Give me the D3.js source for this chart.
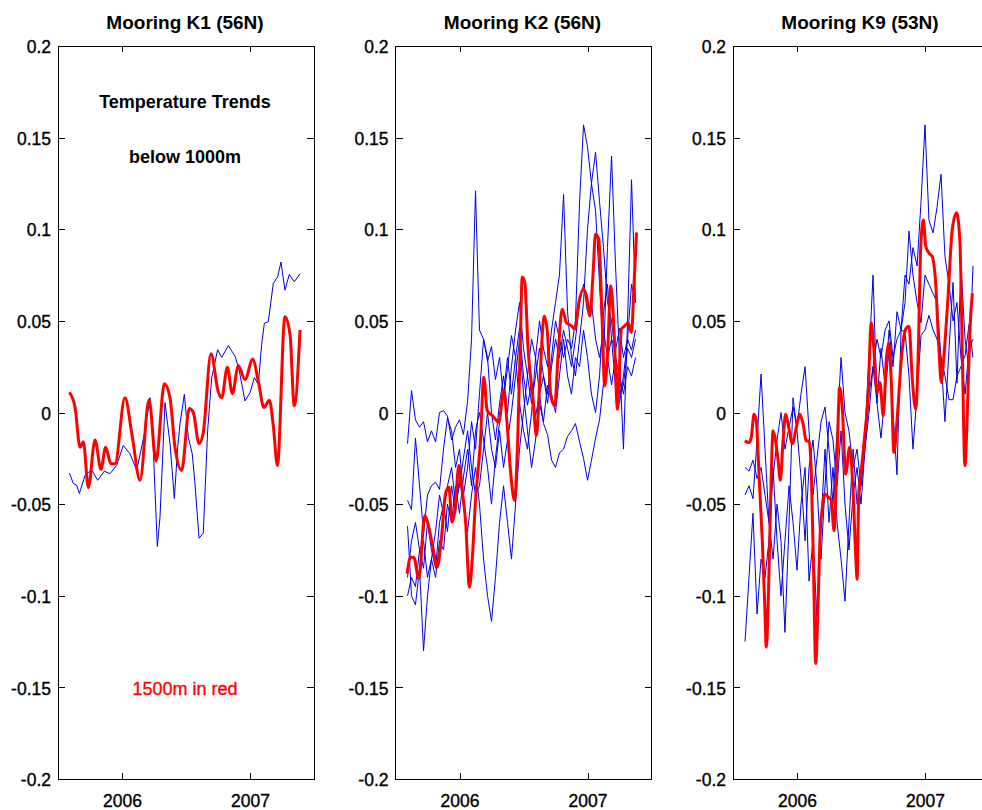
<!DOCTYPE html>
<html><head><meta charset="utf-8">
<script src="https://cdn.jsdelivr.net/npm/d3@7"></script>
<style>
body{margin:0;background:#fff}
svg{display:block}
text{font-family:"Liberation Sans",Arial,Helvetica,sans-serif}
</style>
</head><body>
<svg id="c" width="982" height="810"></svg>
<script>
// ---------------- data ----------------
const panelTitles = ["Mooring K1 (56N)", "Mooring K2 (56N)", "Mooring K9 (53N)"];
const xTickValues = [2006, 2007];
const xTickLabels = ["2006", "2007"];
const yTickValues = [0.2, 0.15, 0.1, 0.05, 0, -0.05, -0.1, -0.15, -0.2];
const yTickLabels = ["0.2", "0.15", "0.1", "0.05", "0", "-0.05", "-0.1", "-0.15", "-0.2"];
const notes = ["Temperature Trends", "below 1000m", "1500m in red"];

// sample times (decimal year) for the K2 and K9 blue records
const gridTimes = [2005.594,2005.625,2005.656,2005.688,2005.719,2005.75,2005.781,2005.813,2005.844,2005.875,
2005.906,2005.938,2005.969,2006.0,2006.031,2006.063,2006.094,2006.125,2006.156,2006.188,
2006.219,2006.25,2006.281,2006.313,2006.344,2006.375,2006.406,2006.438,2006.469,2006.5,
2006.531,2006.563,2006.594,2006.625,2006.656,2006.688,2006.719,2006.75,2006.781,2006.813,
2006.844,2006.875,2006.906,2006.938,2006.969,2007.0,2007.031,2007.063,2007.094,2007.125,
2007.156,2007.188,2007.219,2007.25,2007.281,2007.313,2007.344,2007.375];

// K1
const k1Red = [[2005.589,0.011],[2005.633,0.003],[2005.672,-0.019],[2005.698,-0.016],[2005.737,-0.041],[2005.789,-0.015],[2005.836,-0.031],[2005.872,-0.019],[2005.914,-0.028],[2005.945,-0.028],[2006.023,0.008],[2006.081,-0.0135],[2006.141,-0.037],[2006.211,0.007],[2006.266,-0.0265],[2006.331,0.0157],[2006.375,0.008],[2006.414,-0.019],[2006.466,-0.0316],[2006.526,0.0022],[2006.557,0.000],[2006.602,-0.017],[2006.635,-0.011],[2006.695,0.032],[2006.753,0.011],[2006.779,0.008],[2006.823,0.0247],[2006.862,0.0103],[2006.909,0.0255],[2006.961,0.018],[2007.021,0.029],[2007.065,0.017],[2007.109,0.0027],[2007.151,0.0067],[2007.182,-0.0072],[2007.214,-0.0289],[2007.273,0.0523],[2007.313,0.0424],[2007.346,0.0036],[2007.391,0.0451]];
const k1Blue = [[2005.589,-0.033],[2005.620,-0.0388],[2005.646,-0.0397],[2005.667,-0.0442],[2005.711,-0.0343],[2005.763,-0.0312],[2005.810,-0.037],[2005.862,-0.032],[2005.906,-0.0334],[2005.958,-0.0289],[2006.010,-0.018],[2006.063,-0.0226],[2006.115,-0.0316],[2006.180,-0.0099],[2006.219,0.0081],[2006.245,-0.0208],[2006.276,-0.0731],[2006.297,-0.0569],[2006.336,0.0054],[2006.375,-0.0171],[2006.409,-0.0469],[2006.435,-0.019],[2006.453,-0.0063],[2006.487,0.0099],[2006.518,-0.0135],[2006.549,-0.0226],[2006.570,-0.0388],[2006.602,-0.0686],[2006.635,-0.0659],[2006.669,-0.0099],[2006.701,0.019],[2006.747,0.0343],[2006.779,0.0301],[2006.831,0.0365],[2006.883,0.0307],[2006.914,0.0235],[2006.961,0.0063],[2007.000,0.0108],[2007.034,0.019],[2007.065,0.0153],[2007.091,0.037],[2007.112,0.0487],[2007.143,0.0496],[2007.182,0.0704],[2007.216,0.074],[2007.242,0.0821],[2007.273,0.0668],[2007.307,0.0753],[2007.346,0.0713],[2007.391,0.0758]];

// K2
const k2Red = [[2005.591,-0.088],[2005.617,-0.079],[2005.643,-0.079],[2005.682,-0.0907],[2005.729,-0.0562],[2005.760,-0.0625],[2005.792,-0.0735],[2005.826,-0.0844],[2005.857,-0.0698],[2005.891,-0.0444],[2005.917,-0.0407],[2005.943,-0.0598],[2005.964,-0.0535],[2005.995,-0.0289],[2006.021,-0.0425],[2006.047,-0.0589],[2006.078,-0.0953],[2006.099,-0.0807],[2006.125,-0.048],[2006.164,-0.0153],[2006.190,0.0193],[2006.216,0.0011],[2006.255,-0.0016],[2006.307,-0.0053],[2006.346,0.012],[2006.372,-0.0062],[2006.398,-0.0316],[2006.430,-0.048],[2006.456,-0.0116],[2006.474,0.035],[2006.490,0.074],[2006.510,0.071],[2006.536,0.0345],[2006.575,0.0073],[2006.601,-0.0127],[2006.627,0.0164],[2006.661,0.0527],[2006.687,0.0436],[2006.713,0.0091],[2006.744,0.0036],[2006.770,0.031],[2006.802,0.0564],[2006.836,0.049],[2006.875,0.0473],[2006.901,0.0455],[2006.932,0.06],[2006.966,0.0673],[2006.992,0.0636],[2007.018,0.0527],[2007.044,0.0764],[2007.062,0.0973],[2007.088,0.0945],[2007.109,0.0618],[2007.135,0.0145],[2007.156,0.031],[2007.182,0.0691],[2007.208,0.0436],[2007.234,0.0018],[2007.265,0.0455],[2007.291,0.0473],[2007.317,0.049],[2007.344,0.0436],[2007.364,0.0709],[2007.383,0.0982]];
const k2Blue1 = [-0.017,0.012,-0.004,-0.008,-0.005,-0.016,-0.010,-0.016,0.000,0.001,-0.002,-0.015,-0.008,-0.004,-0.012,0.006,0.040,0.121,0.045,0.040,0.028,0.036,0.018,0.030,0.008,0.024,0.042,0.030,0.046,0.020,0.004,0.016,-0.002,0.010,-0.006,-0.012,-0.026,-0.030,-0.022,-0.020,-0.013,-0.010,-0.006,-0.016,-0.025,-0.037,-0.026,-0.014,-0.004,0.016,0.030,0.040,0.034,0.046,0.030,0.040,0.034,0.045];
const k2Blue2 = [-0.048,-0.053,-0.014,-0.040,-0.066,-0.045,-0.040,-0.038,-0.042,-0.020,-0.003,-0.010,-0.030,-0.020,-0.045,-0.030,-0.005,-0.020,0.010,0.040,0.030,0.000,-0.015,0.005,0.020,0.000,0.025,0.045,0.060,0.035,0.020,0.040,0.030,0.050,0.035,0.025,0.045,0.060,0.075,0.119,0.055,0.030,0.020,0.040,0.060,0.100,0.125,0.142,0.115,0.090,0.060,0.050,0.030,0.010,0.015,0.035,0.030,0.040];
const k2Blue3 = [-0.062,-0.100,-0.105,-0.085,-0.130,-0.100,-0.080,-0.090,-0.070,-0.075,-0.050,-0.060,-0.040,-0.055,-0.035,-0.020,-0.040,-0.010,0.000,-0.015,-0.030,-0.050,-0.025,-0.005,0.010,0.030,0.010,0.030,0.005,-0.010,-0.020,0.000,0.030,0.010,0.020,0.010,0.030,0.050,0.040,0.030,0.040,0.035,0.050,0.115,0.157,0.145,0.125,0.110,0.070,0.030,0.090,0.140,0.080,0.030,-0.020,0.050,0.127,0.060];
const k2Blue4 = [-0.100,-0.090,-0.095,-0.075,-0.085,-0.060,-0.075,-0.085,-0.060,-0.050,-0.065,-0.040,-0.055,-0.035,-0.050,-0.065,-0.045,-0.030,-0.050,-0.080,-0.100,-0.114,-0.090,-0.060,-0.040,-0.060,-0.080,-0.050,-0.020,0.000,0.020,0.005,0.020,0.035,0.020,0.005,0.025,0.040,0.030,0.045,0.035,0.025,0.040,0.060,0.070,0.055,0.060,0.040,0.030,0.045,0.030,0.015,0.030,0.020,0.010,0.025,0.020,0.030];
const k2Blue5 = [-0.090,-0.070,-0.060,-0.075,-0.070,-0.090,-0.080,-0.065,-0.045,-0.055,-0.040,-0.030,-0.050,-0.040,-0.025,-0.010,-0.030,-0.045,-0.040,-0.020,0.000,-0.020,-0.030,-0.010,-0.030,-0.015,0.000,0.020,0.040,0.010,-0.010,-0.030,-0.015,0.005,-0.005,0.015,0.010,0.000,0.020,0.040,0.020,0.010,0.030,0.025,0.045,0.030,0.010,0.000,0.020,0.055,0.070,0.040,0.015,0.005,0.020,0.040,0.070,0.060];

// K9
const k9Red = [[2005.591,-0.0155],[2005.625,-0.0164],[2005.643,-0.0136],[2005.664,-0.001],[2005.682,-0.0045],[2005.703,-0.0336],[2005.729,-0.070],[2005.747,-0.103],[2005.760,-0.128],[2005.781,-0.088],[2005.799,-0.0336],[2005.813,-0.010],[2005.833,-0.0155],[2005.852,-0.026],[2005.870,-0.037],[2005.891,-0.0155],[2005.911,-0.001],[2005.935,-0.008],[2005.964,-0.017],[2005.995,-0.008],[2006.021,-0.001],[2006.047,-0.006],[2006.073,-0.0155],[2006.094,-0.0155],[2006.112,-0.0336],[2006.130,-0.088],[2006.146,-0.137],[2006.164,-0.106],[2006.182,-0.0645],[2006.198,-0.052],[2006.216,-0.0445],[2006.242,-0.046],[2006.268,-0.048],[2006.289,-0.0645],[2006.313,-0.0245],[2006.333,0.0136],[2006.354,0.0027],[2006.380,-0.0336],[2006.411,-0.019],[2006.438,-0.0427],[2006.460,-0.080],[2006.470,-0.091],[2006.482,-0.045],[2006.505,-0.030],[2006.530,-0.012],[2006.554,0.0073],[2006.580,0.049],[2006.601,0.0345],[2006.627,0.011],[2006.648,0.0164],[2006.674,-0.0018],[2006.698,0.029],[2006.718,0.038],[2006.737,0.0164],[2006.757,-0.0218],[2006.784,-0.0018],[2006.815,0.029],[2006.849,0.0455],[2006.875,0.047],[2006.901,0.018],[2006.927,0.0018],[2006.948,0.0345],[2006.966,0.089],[2006.987,0.105],[2007.005,0.091],[2007.031,0.087],[2007.057,0.085],[2007.083,0.071],[2007.109,0.0345],[2007.127,0.0164],[2007.148,0.031],[2007.179,0.062],[2007.213,0.100],[2007.247,0.109],[2007.273,0.093],[2007.291,0.0345],[2007.312,-0.029],[2007.330,-0.0018],[2007.351,0.0455],[2007.370,0.065]];
const k9Blue1 = [-0.030,-0.032,-0.026,-0.036,-0.030,-0.045,-0.060,-0.035,-0.015,0.000,-0.020,-0.008,0.003,-0.008,0.010,0.025,-0.010,-0.045,-0.025,-0.005,0.003,-0.020,-0.050,-0.010,0.030,0.000,-0.010,-0.030,-0.020,-0.040,-0.020,
0.000,0.025,0.005,0.035,0.015,0.045,0.025,0.055,0.045,0.075,0.070,0.090,0.080,0.115,0.157,0.105,0.098,0.112,0.130,0.085,0.070,0.050,0.060,0.030,0.010,0.035,0.040];
const k9Blue2 = [-0.045,-0.040,-0.047,-0.015,0.021,-0.020,-0.060,-0.080,-0.050,-0.070,-0.120,-0.060,0.008,-0.010,-0.035,-0.070,-0.030,-0.015,-0.040,-0.080,-0.040,-0.005,-0.015,-0.040,-0.010,-0.050,-0.075,-0.045,-0.030,-0.050,-0.020,
0.010,0.025,0.040,0.030,0.045,0.050,0.030,0.040,0.045,0.060,0.099,0.075,0.060,0.049,0.075,0.070,0.065,0.060,0.030,-0.005,0.035,0.071,0.016,0.080,0.040,0.024,0.080];
const k9Blue3 = [-0.125,-0.090,-0.055,-0.110,-0.080,-0.090,-0.070,-0.030,-0.070,-0.100,-0.070,-0.040,-0.060,-0.086,-0.050,-0.030,-0.092,-0.070,-0.112,-0.060,-0.020,-0.060,-0.030,-0.060,-0.080,-0.103,-0.060,-0.020,-0.050,-0.040,-0.010,
0.030,0.075,0.005,-0.014,0.010,0.034,0.000,-0.034,0.045,0.044,0.020,-0.020,0.010,0.042,0.045,0.053,0.045,0.040,0.030,0.020,0.007,0.007,0.020,0.025,0.031,0.048,0.030];

// ---------------- drawing ----------------
const svg = d3.select("#c");
const panelLefts = [58, 395.5, 733];
const panelW = 256, plotTop = 46, plotBottom = 779;
const red = "#ff0000", blue = "#0000e6";
const fontTick = 17.5;

const onGrid = vals => vals.map((v, i) => [gridTimes[i], v]);
const panels = [
  {blues: [k1Blue], red: k1Red},
  {blues: [k2Blue1, k2Blue2, k2Blue3, k2Blue4, k2Blue5].map(onGrid), red: k2Red},
  {blues: [k9Blue1, k9Blue2, k9Blue3].map(onGrid), red: k9Red}
];

const yScale = d3.scaleLinear().domain([-0.2, 0.2]).range([plotBottom, plotTop]);

panels.forEach((p, k) => {
  const L = panelLefts[k];
  const xScale = d3.scaleLinear().domain([2005.5, 2007.5]).range([L, L + panelW]);
  const g = svg.append("g");

  const lineBlue = d3.line().x(d => xScale(d[0])).y(d => yScale(d[1]));
  const lineRed = d3.line().x(d => xScale(d[0])).y(d => yScale(d[1])).curve(d3.curveMonotoneX);
  p.blues.forEach(s => {
    g.append("path").attr("d", lineBlue(s)).attr("fill", "none")
      .attr("stroke", blue).attr("stroke-width", 1).attr("stroke-linejoin", "round");
  });
  g.append("path").attr("d", lineRed(p.red)).attr("fill", "none")
    .attr("stroke", red).attr("stroke-width", 3).attr("stroke-linejoin", "round");

  const ax = (gen, tx, ty) => {
    const a = g.append("g").attr("transform", `translate(${tx},${ty})`).call(gen);
    a.select(".domain").remove();
    a.selectAll("line").attr("stroke", "#000").attr("shape-rendering", "crispEdges");
    a.selectAll("text").attr("fill", "#000").attr("stroke", "#000").attr("stroke-width", 0.35)
      .style("font-size", fontTick + "px")
      .style("font-family", '"Liberation Sans",Arial,Helvetica,sans-serif');
    return a;
  };
  ax(d3.axisLeft(yScale).tickValues(yTickValues).tickFormat((d, i) => yTickLabels[i]).tickSize(-7).tickPadding(7), L, 0)
    .selectAll("text").attr("dy", "0.38em");
  ax(d3.axisRight(yScale).tickValues(yTickValues).tickFormat("").tickSize(-7), L + panelW, 0);
  ax(d3.axisBottom(xScale).tickValues(xTickValues).tickFormat((d, i) => xTickLabels[i]).tickSize(-6).tickPadding(16), 0, plotBottom);
  ax(d3.axisTop(xScale).tickValues(xTickValues).tickFormat("").tickSize(-6), 0, plotTop);

  g.append("rect").attr("x", L).attr("y", plotTop).attr("width", panelW).attr("height", plotBottom - plotTop)
    .attr("fill", "none").attr("stroke", "#000").attr("stroke-width", 1).attr("shape-rendering", "crispEdges");

  g.append("text").attr("x", L + panelW / 2 - 1).attr("y", 29).attr("text-anchor", "middle")
    .style("font-size", "19px").style("font-weight", "bold").attr("fill", "#000").text(panelTitles[k]);
});

const cx = panelLefts[0] + panelW / 2 - 1;
svg.append("text").attr("x", cx).attr("y", 108).attr("text-anchor", "middle")
  .style("font-size", "18px").style("font-weight", "bold").text(notes[0]);
svg.append("text").attr("x", cx).attr("y", 163).attr("text-anchor", "middle")
  .style("font-size", "18px").style("font-weight", "bold").text(notes[1]);
svg.append("text").attr("x", cx).attr("y", 695).attr("text-anchor", "middle")
  .style("font-size", "18px").attr("fill", red).attr("stroke", red).attr("stroke-width", 0.35).text(notes[2]);
</script>
</body></html>
